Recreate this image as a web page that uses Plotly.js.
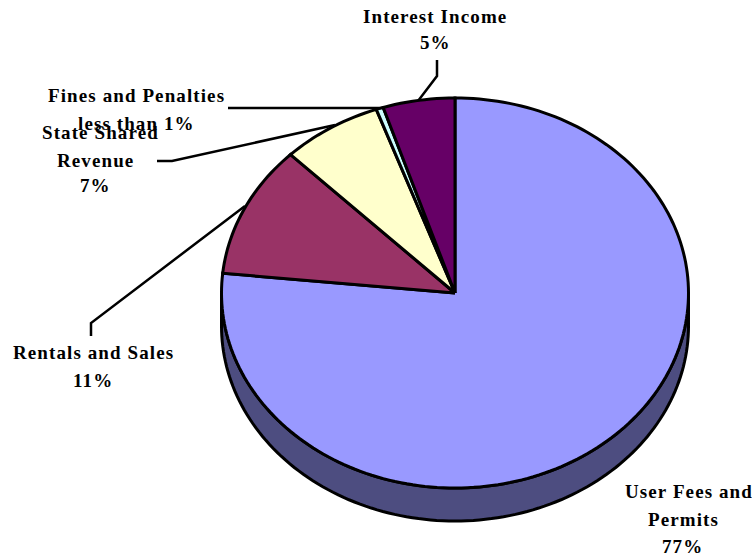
<!DOCTYPE html>
<html>
<head>
<meta charset="utf-8">
<script src="https://cdn.plot.ly/plotly-3.0.1.min.js"></script>
<style>
  html, body { margin: 0; padding: 0; background: #fff; }
  #chart { width: 752px; height: 558px; }
  .annotation-text { letter-spacing: 1.1px; }
</style>
</head>
<body>
<div id="chart"></div>
<script>
// Revenue sources, clockwise from twelve o'clock
const categories = ["User Fees and Permits", "Rentals and Sales", "State Shared Revenue", "Fines and Penalties", "Interest Income"];
const percents = [77, 11, 7, 0.5, 5];
const faceColors = ["#9999FF", "#993366", "#FFFFCC", "#CCFFFF", "#660066"];
const sideColor = "#4D4D80";

// Label lines: [text, centre x px, centre y px]
const labelLines = [
  ["Interest Income", 435, 16], ["5%", 435, 42],
  ["Fines and Penalties", 136, 95], ["less than 1%", 136, 123],
  ["State Shared", 100, 133], ["Revenue", 96, 160], ["7%", 96, 186],
  ["Rentals and Sales", 93, 352], ["11%", 93, 380],
  ["User Fees and", 689, 491], ["Permits", 683, 519], ["77%", 682, 546]
];

// Leader lines as pixel polylines
const leaders = [
  [[437, 60], [437, 76], [418, 101]],
  [[228, 108], [381, 108]],
  [[157, 161], [172, 161], [335, 125]],
  [[91, 336], [91, 323], [245, 206]]
];

const W = 752, H = 558;
const cx = 455, cy = 293, rx = 233.5, ry = 195, depthPx = 33;
const depth = depthPx / ry;

const rim = (a, drop = 0) => [Math.sin(a), Math.cos(a) - drop];

function arc(a0, a1, drop = 0) {
  const steps = Math.max(2, Math.ceil(Math.abs(a1 - a0) / (Math.PI / 120)));
  const pts = [];
  for (let i = 0; i <= steps; i++) pts.push(rim(a0 + (a1 - a0) * i / steps, drop));
  return pts;
}

const total = percents.reduce((s, v) => s + v, 0);
let running = 0;
const faces = percents.map((v, i) => {
  const a0 = running / total * 2 * Math.PI;
  running += v;
  const a1 = running / total * 2 * Math.PI;
  const pts = [[0, 0], ...arc(a0, a1), [0, 0]];
  return {
    type: "scatter", mode: "lines", name: categories[i],
    x: pts.map(p => p[0]), y: pts.map(p => p[1]),
    fill: "toself", fillcolor: faceColors[i],
    line: { color: "#000", width: 3, simplify: false },
    hoverinfo: "name"
  };
});

// Extruded wall below the front half of the disc
const wallPts = [...arc(Math.PI / 2, 3 * Math.PI / 2), ...arc(3 * Math.PI / 2, Math.PI / 2, depth)];
wallPts.push(wallPts[0]);
const wall = {
  type: "scatter", mode: "lines", hoverinfo: "skip",
  x: wallPts.map(p => p[0]), y: wallPts.map(p => p[1]),
  fill: "toself", fillcolor: sideColor,
  line: { color: "#000", width: 3, simplify: false }
};

const leaderTraces = leaders.map(poly => ({
  type: "scatter", mode: "lines", hoverinfo: "skip",
  x: poly.map(p => (p[0] - cx) / rx), y: poly.map(p => (cy - p[1]) / ry),
  line: { color: "#000", width: 2.5 }
}));

const annotations = labelLines.map(([text, x, y]) => ({
  text, xref: "paper", yref: "paper", x: x / W, y: 1 - y / H,
  xanchor: "center", yanchor: "middle", showarrow: false,
  font: { family: "Liberation Serif, Times New Roman, serif", size: 19, color: "#000", weight: 700 }
}));

const hiddenAxis = { visible: false, fixedrange: true };
Plotly.newPlot("chart", [wall, ...faces, ...leaderTraces], {
  width: W, height: H, showlegend: false,
  margin: { l: 0, r: 0, t: 0, b: 0 },
  paper_bgcolor: "#fff", plot_bgcolor: "#fff",
  xaxis: { ...hiddenAxis, range: [-cx / rx, (W - cx) / rx] },
  yaxis: { ...hiddenAxis, range: [(cy - H) / ry, cy / ry] },
  annotations
}, { displayModeBar: false, staticPlot: true });
</script>
</body>
</html>
